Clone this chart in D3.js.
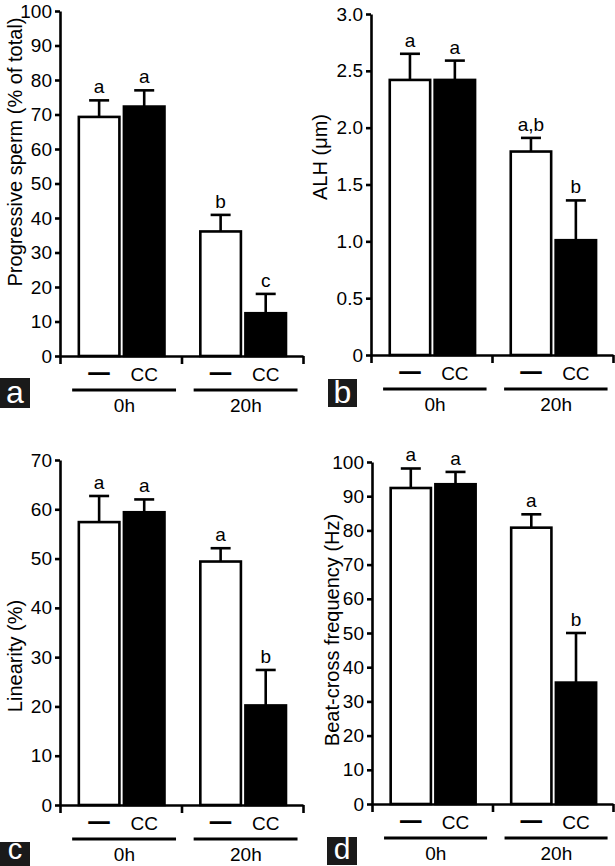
<!DOCTYPE html>
<html>
<head>
<meta charset="utf-8">
<script src="https://cdn.jsdelivr.net/npm/d3@7"></script>
<style>
  html, body { margin: 0; padding: 0; background: #fff; }
  svg { display: block; }
  text { font-family: "Liberation Sans", Arial, Helvetica, sans-serif; fill: #000; }
</style>
</head>
<body>
<svg id="chart" width="615" height="866"></svg>
<script>
// ---------------- data ----------------
const groups = ["0h", "20h"];
const treatments = ["—", "CC"];

const progMean = [69.3, 72.3, 36.1, 12.4];
const progSem  = [4.8, 4.7, 4.8, 5.6];
const progLetters = ["a", "a", "b", "c"];
const progTicks = [0, 10, 20, 30, 40, 50, 60, 70, 80, 90, 100];

const alhMean = [2.42, 2.42, 1.79, 1.01];
const alhSem  = [0.23, 0.17, 0.12, 0.35];
const alhLetters = ["a", "a", "a,b", "b"];
const alhTicks = [0, 0.5, 1.0, 1.5, 2.0, 2.5, 3.0];
const alhTickLabels = ["0", "0.5", "1.0", "1.5", "2.0", "2.5", "3.0"];

const linMean = [57.4, 59.4, 49.4, 20.2];
const linSem  = [5.3, 2.6, 2.7, 7.2];
const linLetters = ["a", "a", "a", "b"];
const linTicks = [0, 10, 20, 30, 40, 50, 60, 70];

const bcfMean = [92.4, 93.5, 80.8, 35.5];
const bcfSem  = [5.7, 3.6, 3.9, 14.5];
const bcfLetters = ["a", "a", "a", "b"];
const bcfTicks = [0, 10, 20, 30, 40, 50, 60, 70, 80, 90, 100];

const panelLetters = ["a", "b", "c", "d"];
const yTitles = ["Progressive sperm (% of total)", "ALH (μm)", "Linearity (%)", "Beat-cross frequency (Hz)"];

// ---------------- layout ----------------
const panels = [
  { mean: progMean, sem: progSem, letters: progLetters, ticks: progTicks, tickLabels: null,
    title: yTitles[0], tag: panelLetters[0],
    x0: 60, x1: 303, y0: 356, yTop: 11, titleX: 15, titleY: 152, box: [0, 378, 30, 30], tagFs: 32, tagDy: 5 },
  { mean: alhMean, sem: alhSem, letters: alhLetters, ticks: alhTicks, tickLabels: alhTickLabels,
    title: yTitles[1], tag: panelLetters[1],
    x0: 371, x1: 613, y0: 355, yTop: 14, titleX: 320, titleY: 157, box: [328, 379, 29, 28], tagFs: 32, tagDy: 4 },
  { mean: linMean, sem: linSem, letters: linLetters, ticks: linTicks, tickLabels: null,
    title: yTitles[2], tag: panelLetters[2],
    x0: 60, x1: 303, y0: 805, yTop: 460, titleX: 15, titleY: 656, box: [0, 842, 30, 24], tagFs: 29, tagDy: 7 },
  { mean: bcfMean, sem: bcfSem, letters: bcfLetters, ticks: bcfTicks, tickLabels: null,
    title: yTitles[3], tag: panelLetters[3],
    x0: 372, x1: 613, y0: 804, yTop: 462, titleX: 332, titleY: 630, box: [327, 837, 30, 28], tagFs: 30, tagDy: 6 }
];

const svg = d3.select("#chart");
const SW = 2.6;

panels.forEach(p => {
  const g = svg.append("g");
  const yMax = p.ticks[p.ticks.length - 1];
  const y = d3.scaleLinear().domain([0, yMax]).range([p.y0, p.yTop]);
  const outer = d3.scaleBand().domain(groups).range([p.x0, p.x1]).padding(0);
  const W = outer.bandwidth();
  const inner = d3.scaleBand().domain(treatments).range([0.155 * W, 0.86 * W]).paddingInner(0.1);

  const rows = [];
  groups.forEach((gr, gi) => treatments.forEach((tr, ti) => {
    const i = gi * treatments.length + ti;
    rows.push({ group: gr, trt: tr, ti, mean: p.mean[i], sem: p.sem[i], letter: p.letters[i] });
  }));

  // error bars (drawn first, bar covers base)
  rows.forEach(d => {
    const cx = outer(d.group) + inner(d.trt) + inner.bandwidth() / 2;
    const yt = y(d.mean + d.sem);
    g.append("line").attr("x1", cx).attr("x2", cx).attr("y1", y(d.mean)).attr("y2", yt)
      .attr("stroke", "#000").attr("stroke-width", SW);
    g.append("line").attr("x1", cx - 10).attr("x2", cx + 10).attr("y1", yt).attr("y2", yt)
      .attr("stroke", "#000").attr("stroke-width", SW);
    g.append("text").attr("x", cx).attr("y", yt - 7).attr("text-anchor", "middle")
      .attr("font-size", 19).text(d.letter);
  });

  // bars
  g.selectAll("rect.bar").data(rows).join("rect")
    .attr("class", "bar")
    .attr("x", d => outer(d.group) + inner(d.trt))
    .attr("width", inner.bandwidth())
    .attr("y", d => y(d.mean))
    .attr("height", d => p.y0 - y(d.mean))
    .attr("fill", d => d.ti === 0 ? "#fff" : "#000")
    .attr("stroke", "#000")
    .attr("stroke-width", SW);

  // y axis
  const yAxis = d3.axisLeft(y).tickValues(p.ticks).tickSize(5).tickSizeOuter(0).tickPadding(3)
    .tickFormat((v, i) => p.tickLabels ? p.tickLabels[i] : d3.format("d")(v));
  const ya = g.append("g").attr("transform", `translate(${p.x0},0)`).call(yAxis);
  ya.selectAll("path, line").attr("stroke", "#000").attr("stroke-width", SW);
  ya.selectAll("text").attr("font-size", 19).attr("font-family", '"Liberation Sans", Arial, sans-serif').attr("fill", "#000");

  // x axis with boundary ticks
  const xb = d3.scaleLinear().domain([0, groups.length]).range([p.x0, p.x1]);
  const xAxis = d3.axisBottom(xb).tickValues(d3.range(groups.length + 1)).tickSize(8).tickSizeOuter(0).tickFormat("");
  const xa = g.append("g").attr("transform", `translate(0,${p.y0})`).call(xAxis);
  xa.selectAll("path, line").attr("stroke", "#000").attr("stroke-width", SW);

  // treatment labels
  rows.forEach(d => {
    const cx = outer(d.group) + inner(d.trt) + inner.bandwidth() / 2;
    if (d.ti === 0) {
      g.append("text").attr("x", cx).attr("y", p.y0 + 23).attr("text-anchor", "middle")
        .attr("font-size", 20).attr("stroke", "#000").attr("stroke-width", 1.5).text(d.trt);
    } else {
      g.append("text").attr("x", cx).attr("y", p.y0 + 25).attr("text-anchor", "middle")
        .attr("font-size", 19).text(d.trt);
    }
  });

  // group underlines and labels
  groups.forEach(gr => {
    const gx = outer(gr);
    g.append("line").attr("x1", gx + 0.1 * W).attr("x2", gx + 0.955 * W)
      .attr("y1", p.y0 + 34).attr("y2", p.y0 + 34).attr("stroke", "#000").attr("stroke-width", 3);
    g.append("text").attr("x", gx + 0.53 * W).attr("y", p.y0 + 56).attr("text-anchor", "middle")
      .attr("font-size", 19).text(gr);
  });

  // y title
  g.append("text")
    .attr("transform", `translate(${p.titleX},${p.titleY}) rotate(-90)`)
    .attr("text-anchor", "middle").attr("dominant-baseline", "central")
    .attr("font-size", 20).text(p.title);

  // panel tag
  const [bx, by, bw, bh] = p.box;
  g.append("rect").attr("x", bx).attr("y", by).attr("width", bw).attr("height", bh).attr("fill", "#1a1a1a");
  g.append("text").attr("x", bx + bw / 2).attr("y", by + bh - p.tagDy).attr("text-anchor", "middle")
    .attr("font-family", '"Liberation Sans Narrow", "Liberation Sans", Arial, sans-serif')
    .attr("font-size", p.tagFs).style("fill", "#fff").text(p.tag);
});
</script>
</body>
</html>
